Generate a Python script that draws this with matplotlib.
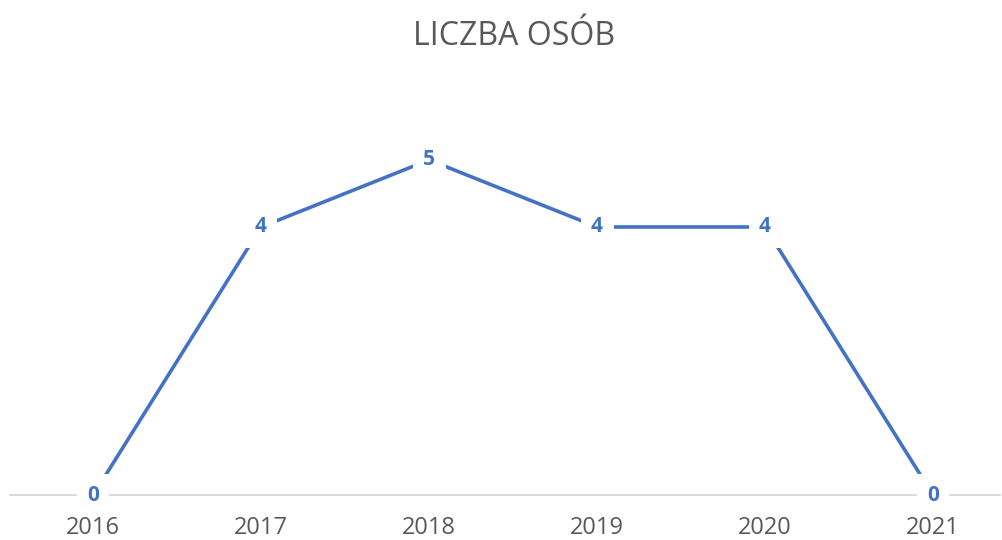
import matplotlib.pyplot as plt

# dane
lata = ['2016', '2017', '2018', '2019', '2020', '2021']
liczba_osob = [0, 4, 5, 4, 4, 0]

niebieski = '#4472C4'
szary = '#595959'

fig = plt.figure(figsize=(10.03, 5.4), dpi=100)
ax = fig.add_axes([0.0, 0.083, 1.0, 0.745])

x = list(range(len(lata)))
ax.plot(x, liczba_osob, color=niebieski, linewidth=2.6, solid_capstyle='butt', zorder=2)

# etykiety danych na punktach (biale tlo przerywa linie)
for xi, yi in zip(x, liczba_osob):
    ax.text(xi, yi, str(yi), ha='center', va='center', fontsize=15, fontweight='bold',
            color=niebieski, family='Open Sans', zorder=3,
            bbox=dict(boxstyle='square,pad=0.5', facecolor='white', edgecolor='none'))

ax.set_xlim(-0.554, 5.416)
ax.set_ylim(0, 6)
ax.set_xticks(x)
ax.set_xticklabels(lata, fontsize=17, color=szary, family='Open Sans')
ax.set_yticks([])
ax.tick_params(axis='x', length=0, pad=15)
ax.xaxis.set_zorder(4)

for s in ['top', 'right', 'left']:
    ax.spines[s].set_visible(False)
ax.spines['bottom'].set_color('#D9D9D9')
ax.spines['bottom'].set_linewidth(1.3)
ax.spines['bottom'].set_bounds(-0.494, 5.398)
ax.spines['bottom'].set_zorder(1)
ax.patch.set_visible(False)

fig.text(0.513, 0.932, 'LICZBA OSÓB', ha='center', va='center', fontsize=23,
         color=szary, family='Open Sans')

fig.savefig('out.png', dpi=100, facecolor='white')
